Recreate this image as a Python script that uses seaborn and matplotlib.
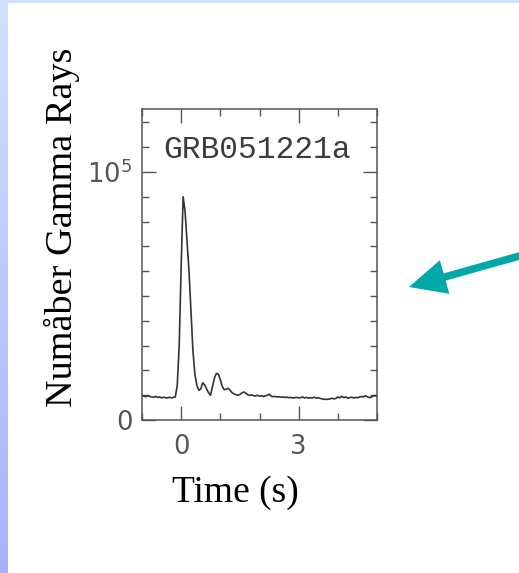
import numpy as np
import pandas as pd
import matplotlib
matplotlib.use("Agg")
import matplotlib.pyplot as plt
from matplotlib.patches import Rectangle, FancyArrow
from matplotlib.ticker import FixedLocator, MultipleLocator
from matplotlib.colors import LinearSegmentedColormap
import seaborn as sns

# Light curve of GRB051221a (counts per bin, 0.05 s bins)
time_s = np.round(np.arange(-1.0, 5.0001, 0.05), 2)
counts = [
    9600, 9700, 9400, 9800, 9500, 9300, 9200, 9500, 9100, 9300,
    8900, 9200, 9000, 8900, 9200, 8900, 9100, 9300, 14000, 30000,
    62000, 90000, 84000, 72000, 60000, 44000, 28000, 18500, 14000, 12000,
    12500, 15000, 14200, 12500, 11000, 10000, 13500, 17000, 18800, 18500,
    16200, 13500, 12200, 12400, 12800, 12000, 11000, 10500, 10200, 10000,
    10300, 10900, 11300, 10800, 10200, 9900, 10100, 9800, 9700, 10000,
    9600, 9800, 9500, 9700, 10000, 10400, 9600, 9400, 9500, 9300,
    9400, 9200, 9300, 9100, 9200, 9000, 9100, 8900, 9000, 9100,
    8900, 9000, 9300, 8900, 9100, 8800, 9000, 8900, 9200, 8800,
    9000, 8700, 8500, 8400, 8300, 8400, 8500, 8800, 8500, 8700,
    9300, 8900, 9600, 9000, 9300, 8800, 9000, 9200, 8900, 9100,
    9000, 9200, 9500, 9300, 9800, 9400, 9000, 9200, 9600, 9900,
    9400,
]
x_tick_values = [0, 3]
x_tick_labels = ["0", "3"]
y_tick_values = [0, 1e5]
y_tick_labels = ["0", r"$10^5$"]
burst_name = "GRB051221a"
x_label = "Time (s)"
y_label = "Numåber Gamma Rays"

df = pd.DataFrame({"time": time_s, "counts": counts})

sns.set_style("ticks")
plt.rcParams["font.family"] = ["DejaVu Sans"]
plt.rcParams["mathtext.fontset"] = "dejavusans"

W, H = 519, 573
fig = plt.figure(figsize=(W / 100, H / 100), dpi=100)

# Slide background: blue gradient frame with a white panel
bg = fig.add_axes([0, 0, 1, 1], zorder=-10)
bg.axis("off")
cmap = LinearSegmentedColormap.from_list("frame", ["#cfe2ff", "#a8b2fb"])
grad = np.linspace(0, 1, 256).reshape(-1, 1)
bg.imshow(grad, cmap=cmap, aspect="auto", extent=(0, W, H, 0))
bg.add_patch(Rectangle((8, 3), W - 8, H - 3, facecolor="white", edgecolor="none"))
bg.set_xlim(0, W)
bg.set_ylim(H, 0)

# Pointer arrow
bg.add_patch(FancyArrow(530, 253, -121, 34, width=7.5, head_width=35,
                        head_length=37, length_includes_head=True,
                        color="#00a8a8", linewidth=0))

# Light-curve panel
ax = fig.add_axes([142 / W, 1 - 420 / H, (377 - 142) / W, (420 - 109) / H])
ax.set_facecolor("white")
sns.lineplot(data=df, x="time", y="counts", ax=ax, color="#333333",
             linewidth=1.2, estimator=None)
ax.set_xlim(-1, 5)
ax.set_ylim(0, 1.254e5)

for side in ["left", "right", "top", "bottom"]:
    ax.spines[side].set_visible(True)
    ax.spines[side].set_color("#555555")
    ax.spines[side].set_linewidth(1.1)

ax.xaxis.set_major_locator(FixedLocator(x_tick_values))
ax.set_xticklabels(x_tick_labels)
ax.xaxis.set_minor_locator(MultipleLocator(1))
ax.yaxis.set_major_locator(FixedLocator(y_tick_values))
ax.set_yticklabels(y_tick_labels)
ax.yaxis.set_minor_locator(MultipleLocator(1e4))

ax.tick_params(which="both", direction="in", top=True, right=True,
               color="#555555", width=1.0, labelcolor="#555555",
               labelsize=18.5)
ax.tick_params(which="major", length=10)
ax.tick_params(which="minor", length=5)
ax.tick_params(axis="x", which="major", pad=10)
ax.tick_params(axis="y", which="major", pad=7)
ax.set_xlabel("")
ax.set_ylabel("")

ax.text(1.93, 1.089e5, burst_name, ha="center", va="center",
        fontsize=22.5, color="#3c3c3c", family=["Liberation Mono"])

# Axis titles
fig.text(235 / W, 1 - 493 / H, x_label, ha="center", va="center",
         fontsize=27, family=["Liberation Serif"], color="black")
fig.text(62 / W, 1 - 227 / H, y_label, ha="center", va="center",
         rotation=90, fontsize=27.5, family=["Liberation Serif"], color="black")

fig.savefig("out.png", dpi=100)
